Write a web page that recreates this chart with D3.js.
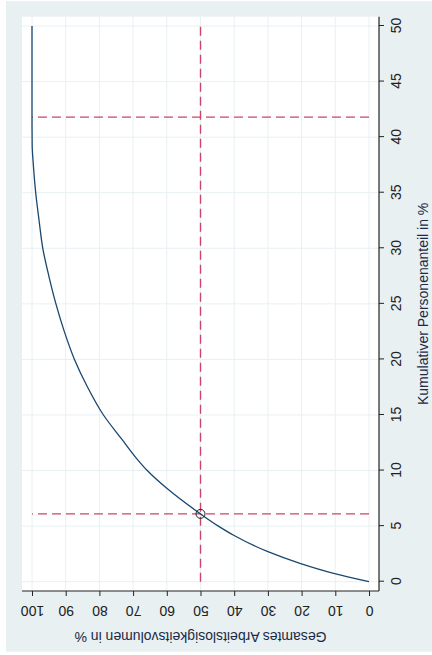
<!DOCTYPE html>
<html>
<head>
<meta charset="utf-8">
<script src="https://cdn.jsdelivr.net/npm/d3@7"></script>
<style>
  html, body { margin: 0; padding: 0; background: #ffffff; }
  svg { display: block; }
</style>
</head>
<body>
<svg id="chart" width="432" height="655"></svg>
<script>
// Cumulative share of persons (%) and cumulative share of total unemployment volume (%)
const kumulativ = [0, 0.75, 1.65, 2.7, 4.2, 5.0, 6.1, 8.4, 10, 11.1, 12.8, 15, 17.5, 20, 22.5, 25, 27.5, 30, 32.5, 35, 37.5, 39.3, 42, 45, 50];
const volumen   = [0, 10.5, 20.5, 30, 40.3, 44.7, 50, 60, 65.8, 69.0, 73.3, 78.8, 83.5, 87.4, 90.4, 92.9, 95, 96.8, 97.9, 98.9, 99.6, 99.95, 100, 100, 100];

// Reference lines and the marked point
const anteilHaelfte = 6.1;   // share of persons accounting for half of the volume
const anteilVoll = 41.8;     // share of persons accounting for the full volume
const volumenHaelfte = 50;

const kumTicks = [0, 5, 10, 15, 20, 25, 30, 35, 40, 45, 50];
const volTicks = [0, 10, 20, 30, 40, 50, 60, 70, 80, 90, 100];

const xTitle = "Kumulativer Personenanteil in %";
const yTitle = "Gesamtes Arbeitslosigkeitsvolumen in %";

// The graph is laid out in a landscape frame (655 x 432) and turned a quarter turn
// counter-clockwise onto the portrait page.
const W = 655, H = 432;
const FONT = "'Liberation Sans', Arial, Helvetica, sans-serif";
const BG = "#e8f0f2";
const GRID = "#e8f0f2";
const NAVY = "#1a476f";
const RED = "#cc4468";

const svg = d3.select("#chart");
const g = svg.append("g").attr("transform", `translate(0,${W}) rotate(-90)`);

// plot region in the landscape frame
const plot = { left: 64, right: 638.3, top: 22, bottom: 379 };

const x = d3.scaleLinear().domain([0, 50]).range([73.3, 629]);
const y = d3.scaleLinear().domain([0, 100]).range([369, 32]);

// graph region background
g.append("rect")
  .attr("x", 3.3).attr("y", 6)
  .attr("width", 654 - 3.3).attr("height", H - 6)
  .attr("fill", BG);

// plot region
g.append("rect")
  .attr("x", plot.left).attr("y", plot.top)
  .attr("width", plot.right - plot.left).attr("height", plot.bottom - plot.top)
  .attr("fill", "#ffffff");

// grid lines
g.append("g").selectAll("line").data(kumTicks).join("line")
  .attr("x1", d => x(d)).attr("x2", d => x(d))
  .attr("y1", plot.top).attr("y2", plot.bottom)
  .attr("stroke", GRID).attr("stroke-width", 1);
g.append("g").selectAll("line").data(volTicks).join("line")
  .attr("y1", d => y(d)).attr("y2", d => y(d))
  .attr("x1", plot.left).attr("x2", plot.right)
  .attr("stroke", GRID).attr("stroke-width", 1);

// reference lines
const dash = "9,5";
g.append("line")
  .attr("x1", x(0)).attr("x2", x(50))
  .attr("y1", y(volumenHaelfte)).attr("y2", y(volumenHaelfte))
  .attr("stroke", RED).attr("stroke-width", 1.4).attr("stroke-dasharray", dash);
[anteilHaelfte, anteilVoll].forEach(v => {
  g.append("line")
    .attr("x1", x(v)).attr("x2", x(v))
    .attr("y1", y(0)).attr("y2", y(100))
    .attr("stroke", RED).attr("stroke-width", 1.4).attr("stroke-dasharray", dash);
});

// concentration curve
const pts = kumulativ.map((k, i) => [k, volumen[i]]);
const line = d3.line()
  .x(d => x(d[0]))
  .y(d => y(d[1]))
  .curve(d3.curveMonotoneX);
g.append("path")
  .datum(pts)
  .attr("d", line)
  .attr("fill", "none")
  .attr("stroke", NAVY)
  .attr("stroke-width", 1.3);

// marked point
g.append("circle")
  .attr("cx", x(anteilHaelfte)).attr("cy", y(volumenHaelfte))
  .attr("r", 4.5)
  .attr("fill", "none")
  .attr("stroke", "#222")
  .attr("stroke-width", 1);

// x axis (cumulative share of persons)
const xAxis = g.append("g")
  .attr("transform", `translate(0,${plot.bottom})`)
  .call(d3.axisBottom(x).tickValues(kumTicks).tickSize(5).tickSizeOuter(0).tickPadding(0));
xAxis.select(".domain").remove();
xAxis.selectAll("line").attr("stroke", "#222");
xAxis.selectAll("text")
  .attr("y", 21.5).attr("dy", null)
  .attr("fill", "#222")
  .style("font-family", FONT).style("font-size", "14px");
g.append("line")
  .attr("x1", plot.left).attr("x2", plot.right)
  .attr("y1", plot.bottom).attr("y2", plot.bottom)
  .attr("stroke", "#222").attr("stroke-width", 1.2);

// y axis (share of total unemployment volume)
const yAxis = g.append("g")
  .attr("transform", `translate(${plot.left},0)`)
  .call(d3.axisLeft(y).tickValues(volTicks).tickSize(5).tickSizeOuter(0));
yAxis.select(".domain").remove();
yAxis.selectAll("line").attr("stroke", "#222");
yAxis.selectAll("text")
  .attr("x", 0).attr("y", 0).attr("dy", null)
  .attr("transform", "translate(-14.7,0) rotate(-90)")
  .attr("text-anchor", "middle")
  .attr("fill", "#222")
  .style("font-family", FONT).style("font-size", "14px");
g.append("line")
  .attr("x1", plot.left).attr("x2", plot.left)
  .attr("y1", plot.top).attr("y2", plot.bottom)
  .attr("stroke", "#222").attr("stroke-width", 1.2);

// axis titles
g.append("text")
  .attr("x", (plot.left + plot.right) / 2).attr("y", 428)
  .attr("text-anchor", "middle")
  .attr("fill", "#1c2a44")
  .style("font-family", FONT).style("font-size", "14px")
  .text(xTitle);
g.append("text")
  .attr("transform", `translate(23.5,${(plot.top + plot.bottom) / 2}) rotate(-90)`)
  .attr("text-anchor", "middle")
  .attr("fill", "#1c2a44")
  .style("font-family", FONT).style("font-size", "14px")
  .text(yTitle);
</script>
</body>
</html>
